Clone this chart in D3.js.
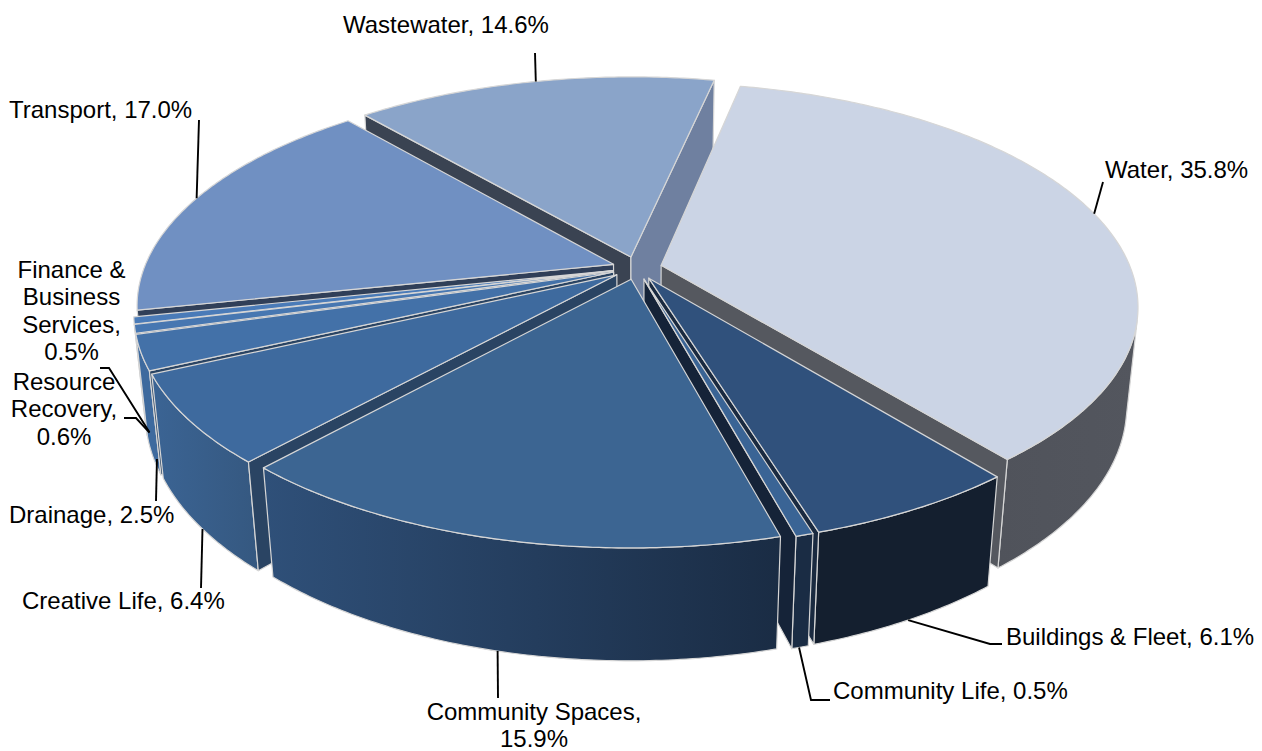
<!DOCTYPE html>
<html>
<head>
<meta charset="utf-8">
<style>
  html, body { margin: 0; padding: 0; background: #fff; }
  svg { display: block; }
  text { font-family: "Liberation Sans", Arial, sans-serif; font-size: 24px; fill: #000; }
</style>
<script src="https://cdn.jsdelivr.net/npm/d3@7/dist/d3.min.js"></script>
</head>
<body>
<svg id="chart" width="1262" height="751"></svg>
<script>
// Budget shares, clockwise from the first slice
const categories = ["Water", "Buildings & Fleet", "Community Life", "Community Spaces", "Creative Life",
                    "Drainage", "Resource Recovery", "Finance & Business Services", "Transport", "Wastewater"];
const shares = [35.8, 6.1, 0.5, 15.9, 6.4, 2.5, 0.6, 0.5, 17.0, 14.6];

// Slice shading: top surface, rim gradient ends, and the two cut faces
const topColors   = ["#cbd4e5", "#30517c", "#3a6495", "#3c6592", "#3e6a9e", "#4371a8", "#4777b1", "#4a7bb8", "#7090c2", "#8aa4c9"];
const wallLeft    = ["#50535b", "#141f2f", "#1a2c44", "#2f5079", "#3b6494", "#3e6a9e", "#3e6a9e", "#3e6a9e", "#3e6a9e", "#6f80a0"];
const wallRight   = ["#53565e", "#141f2f", "#1a2c44", "#1a2c44", "#355880", "#3e6a9e", "#3e6a9e", "#3e6a9e", "#3e6a9e", "#6f80a0"];
const faceAtStart = ["#55585f", "#1a2a40", "#17263c", "#2a4463", "#2a4463", "#2a4463", "#2a4463", "#2a4463", "#303f58", "#3a4352"];
const faceAtEnd   = ["#55585f", "#1a2a40", "#152338", "#17263c", "#2a4463", "#2a4463", "#2a4463", "#2a4463", "#303f58", "#6f80a0"];

// Label lines and their placement
const labelLines = [["Water, 35.8%"], ["Buildings & Fleet, 6.1%"], ["Community Life, 0.5%"], ["Community Spaces,", "15.9%"],
                    ["Creative Life, 6.4%"], ["Drainage, 2.5%"], ["Resource", "Recovery,", "0.6%"],
                    ["Finance &", "Business", "Services,", "0.5%"], ["Transport, 17.0%"], ["Wastewater, 14.6%"]];
const labelX      = [1105, 1006, 833, 534, 22, 9, 64, 71.5, 9, 343];
const labelY      = [169, 636, 690, 711, 600, 514, 381, 269, 109, 24];
const labelAnchor = ["start", "start", "start", "middle", "start", "start", "middle", "middle", "start", "start"];

// Leader lines: fixed outer points, inner end computed on the slice rim
const leaderOuter = [[[1103, 182]], [[1002, 644], [990, 644]], [[830, 700], [811, 700]], [[498, 698]], [[201, 588]],
                     [[156, 501]], [[124, 418], [136, 418]], [[100, 368], [109, 368]], [[199, 120]], [[535, 53]]];
const leaderDepth = [0.0, 1, 1, 1, 1, 0.9, 0.8, 0.8, 0, 0];
const leaderAngle = [75.5, 152, 164, 193.7, 233, 246.5, 250, 250, 289, 346];

// Camera and slab geometry
const elevation = 27.4 * Math.PI / 180, camDist = 4.955, focal = 2326;
const cx = 637, cy = 268, thickness = 0.241, explode = 0.053, firstAngle = 12 * Math.PI / 180;
const sinE = Math.sin(elevation), cosE = Math.cos(elevation);
const camera = [0, camDist * cosE, camDist * sinE];

// Perspective projection of a point on the slab; z runs 0 at the top to 1 at the bottom
function project(X, Y, z) {
  const Z = -thickness * z;
  const depth = camDist - Y * cosE - Z * sinE;
  return [cx + focal * X / depth, cy + focal * (Y * sinE - Z * cosE) / depth];
}
const polar = a => [Math.sin(a), -Math.cos(a)];

const arcs = d3.pie().sort(null).value(d => d)
  .startAngle(firstAngle).endAngle(firstAngle + 2 * Math.PI)(shares);

const slices = arcs.map((d, i) => {
  const mid = (d.startAngle + d.endAngle) / 2;
  const [bx, by] = polar(mid);
  return { i, a0: d.startAngle, a1: d.endAngle, mid, ox: bx * explode, oy: by * explode };
});

const svg = d3.select("#chart");
const line = d3.line().curve(d3.curveLinearClosed);

const rimAngles = s => {
  const n = Math.max(3, Math.ceil((s.a1 - s.a0) * 90));
  return d3.range(n + 1).map(k => s.a0 + (s.a1 - s.a0) * k / n);
};
const rimPoint = (s, a, z) => {
  const [x, y] = polar(a);
  return project(s.ox + x, s.oy + y, z);
};

// A rim generator is visible when its outward normal points towards the camera
const rimFacesCamera = (s, a) => {
  const [x, y] = polar(a);
  return x * (camera[0] - s.ox - x) + y * (camera[1] - s.oy - y) > 0;
};

const defs = svg.append("defs");
slices.forEach(s => {
  const g = defs.append("linearGradient").attr("id", "wall" + s.i);
  g.append("stop").attr("offset", 0).attr("stop-color", wallLeft[s.i]);
  g.append("stop").attr("offset", 1).attr("stop-color", wallRight[s.i]);
});

const edge = "#d6d6d6";
const pieLayer = svg.append("g").attr("stroke", edge).attr("stroke-width", 1.2).attr("stroke-linejoin", "round");

// Paint slices from the back of the pie to the front
const ordered = slices.slice().sort((p, q) => polar(p.mid)[1] - polar(q.mid)[1]);
ordered.forEach(s => {
  const g = pieLayer.append("g").attr("class", "slice");

  const seen = rimAngles(s).filter(a => rimFacesCamera(s, a));
  if (seen.length > 1) {
    g.append("path")
      .attr("d", line(seen.map(a => rimPoint(s, a, 0)).concat(seen.slice().reverse().map(a => rimPoint(s, a, 1)))))
      .attr("fill", `url(#wall${s.i})`);
  }

  const apexTop = project(s.ox, s.oy, 0), apexBottom = project(s.ox, s.oy, 1);
  [[s.a0, -1, faceAtStart[s.i]], [s.a1, 1, faceAtEnd[s.i]]].forEach(([a, sign, color]) => {
    const n = [sign * Math.cos(a), sign * Math.sin(a)];
    const facing = n[0] * (camera[0] - s.ox) + n[1] * (camera[1] - s.oy);
    if (facing <= 0) return;
    g.append("path")
      .attr("d", line([apexTop, rimPoint(s, a, 0), rimPoint(s, a, 1), apexBottom]))
      .attr("fill", color);
  });

  g.append("path")
    .attr("d", line([apexTop].concat(rimAngles(s).map(a => rimPoint(s, a, 0)))))
    .attr("fill", topColors[s.i]);
});

// Leader lines
const leaderPath = d3.line();
const leaders = svg.append("g").attr("fill", "none").attr("stroke", "#000").attr("stroke-width", 1.9);
slices.forEach(s => {
  const anchor = rimPoint(s, leaderAngle[s.i] * Math.PI / 180, leaderDepth[s.i]);
  leaders.append("path").attr("d", leaderPath(leaderOuter[s.i].concat([anchor])));
});

// Labels
const labels = svg.append("g");
categories.forEach((name, i) => {
  const t = labels.append("text").attr("text-anchor", labelAnchor[i]).attr("dominant-baseline", "central");
  labelLines[i].forEach((txt, k) => {
    t.append("tspan").attr("x", labelX[i]).attr("y", labelY[i] + k * 27.3).text(txt);
  });
});
</script>
</body>
</html>
